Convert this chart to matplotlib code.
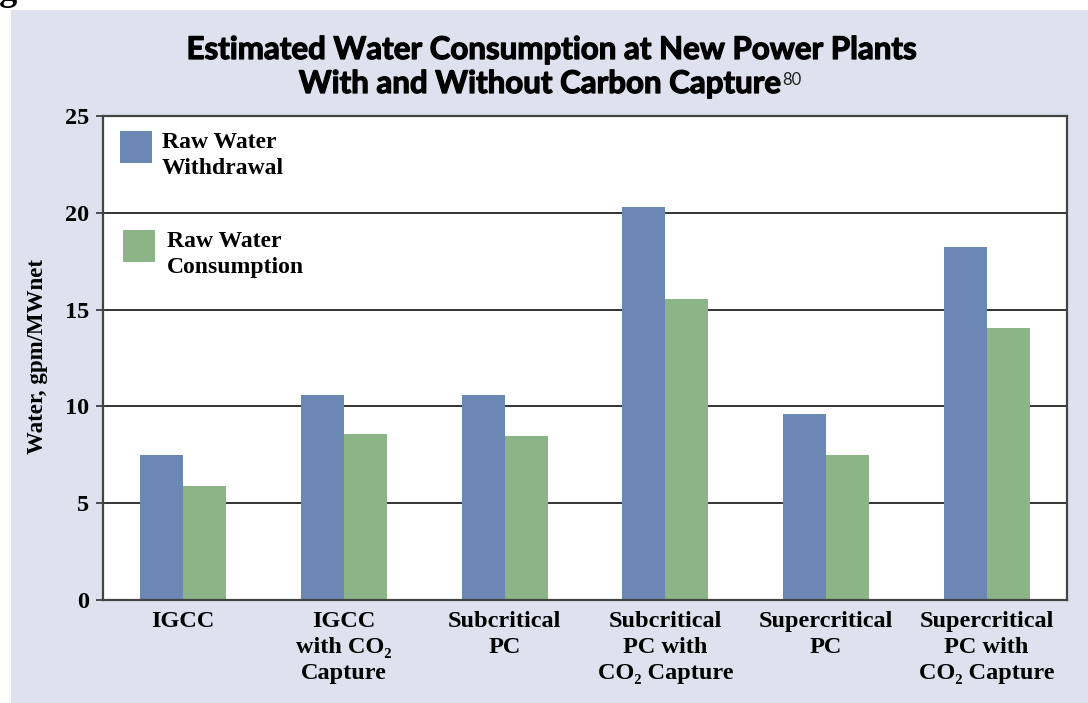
import matplotlib
matplotlib.use("Agg")
import matplotlib.pyplot as plt
import matplotlib.patheffects as pe
from matplotlib.patches import Rectangle
import numpy as np

# ---- data ----
categories = [
    "IGCC",
    "IGCC\nwith CO₂\nCapture",
    "Subcritical\nPC",
    "Subcritical\nPC with\nCO₂ Capture",
    "Supercritical\nPC",
    "Supercritical\nPC with\nCO₂ Capture",
]
withdrawal = [7.5, 10.6, 10.6, 20.3, 9.6, 18.25]
consumption = [5.9, 8.6, 8.45, 15.55, 7.5, 14.05]
series_labels = ["Raw Water\nWithdrawal", "Raw Water\nConsumption"]
yticks = [0, 5, 10, 15, 20, 25]

# ---- style ----
W, H = 1088, 703
PANEL = "#dfe1ee"
BLUE = "#6b88b4"
GREEN = "#8bb487"
LINE = "#333333"
SERIF = ["Liberation Serif", "DejaVu Serif"]
SANS = ["Lato", "DejaVu Sans"]
HEAVY = [pe.withStroke(linewidth=0.9, foreground="black")]


def px(x, y):
    """Pixel position (from top-left) to figure fraction."""
    return x / W, 1 - y / H


fig = plt.figure(figsize=(W / 100, H / 100), dpi=100, facecolor="white")

# lavender panel behind everything
fig.patches.append(Rectangle(px(11, H), (W - 11) / W, (H - 10) / H,
                             transform=fig.transFigure, facecolor=PANEL,
                             edgecolor="none", zorder=-10))

left, top, right, bottom = 103, 116, 1067, 600
ax = fig.add_axes([left / W, 1 - bottom / H, (right - left) / W, (bottom - top) / H])
ax.set_facecolor("white")

x = np.arange(len(categories))
bw = 0.268
ax.bar(x - bw / 2, withdrawal, bw, color=BLUE, zorder=2)
ax.bar(x + bw / 2, consumption, bw, color=GREEN, zorder=2)

ax.set_xlim(-0.5, len(categories) - 0.5)
ax.set_ylim(0, 25)
ax.set_yticks(yticks)
ax.set_yticklabels([str(v) for v in yticks])
ax.set_xticks(x)
ax.set_xticklabels(categories, linespacing=1.3)

ax.set_axisbelow(True)
ax.yaxis.grid(True, color=LINE, linewidth=1.4)
for s in ax.spines.values():
    s.set_color("#444444")
    s.set_linewidth(1.6)

ax.tick_params(axis="y", length=5, width=1.2, color=LINE, pad=5)
ax.tick_params(axis="x", length=0, pad=8)
for lab in ax.get_yticklabels() + ax.get_xticklabels():
    lab.set_fontfamily(SERIF)
    lab.set_fontweight("bold")
    lab.set_fontsize(17.5)
    lab.set_color("black")

# y axis title
fig.text(*px(38, 356), "Water, gpm/MWnet", rotation=90, ha="center",
         va="center", family=SERIF, fontweight="bold", fontsize=16.5)

# legend drawn as swatches with labels
legend_items = [
    (series_labels[0], BLUE, 120, 131, 162),
    (series_labels[1], GREEN, 123, 230, 167),
]
for text, col, sx, sy, tx in legend_items:
    fig.patches.append(Rectangle(px(sx, sy + 32), 32 / W, 32 / H,
                                 transform=fig.transFigure, facecolor=col,
                                 edgecolor="none", zorder=5))
    fig.text(*px(tx, sy + 1), text, ha="left", va="top", family=SERIF,
             fontweight="bold", fontsize=17, linespacing=1.3, zorder=6)

# title
fig.text(*px(552, 59), "Estimated Water Consumption at New Power Plants",
         ha="center", va="baseline", family=SANS, fontweight="bold",
         fontsize=22.5, path_effects=HEAVY)
t2 = fig.text(*px(540, 93), "With and Without Carbon Capture",
              ha="center", va="baseline", family=SANS, fontweight="bold",
              fontsize=22.5, path_effects=HEAVY)

# figure caption above the panel, clipped by the top edge
cap = fig.text(0, 1 - 0.5 / H, "Figure", ha="left", va="baseline",
               family=SERIF, fontweight="bold", fontsize=26)

fig.canvas.draw()
renderer = fig.canvas.get_renderer()
bb = t2.get_window_extent(renderer)
fig.text((bb.x1 + 1) / W, 1 - 85 / H, "80", ha="left", va="baseline",
         family=SANS, fontweight="normal", fontsize=12, color="#222222")

# shift the caption so that only the descender of its "g" peeks in
probe = fig.text(0, 0, "Fi", family=SERIF, fontweight="bold", fontsize=26)
w_fi = probe.get_window_extent(renderer).width
probe.remove()
cap.set_x(-w_fi / W)

fig.savefig("out.png", dpi=100, facecolor="white")
